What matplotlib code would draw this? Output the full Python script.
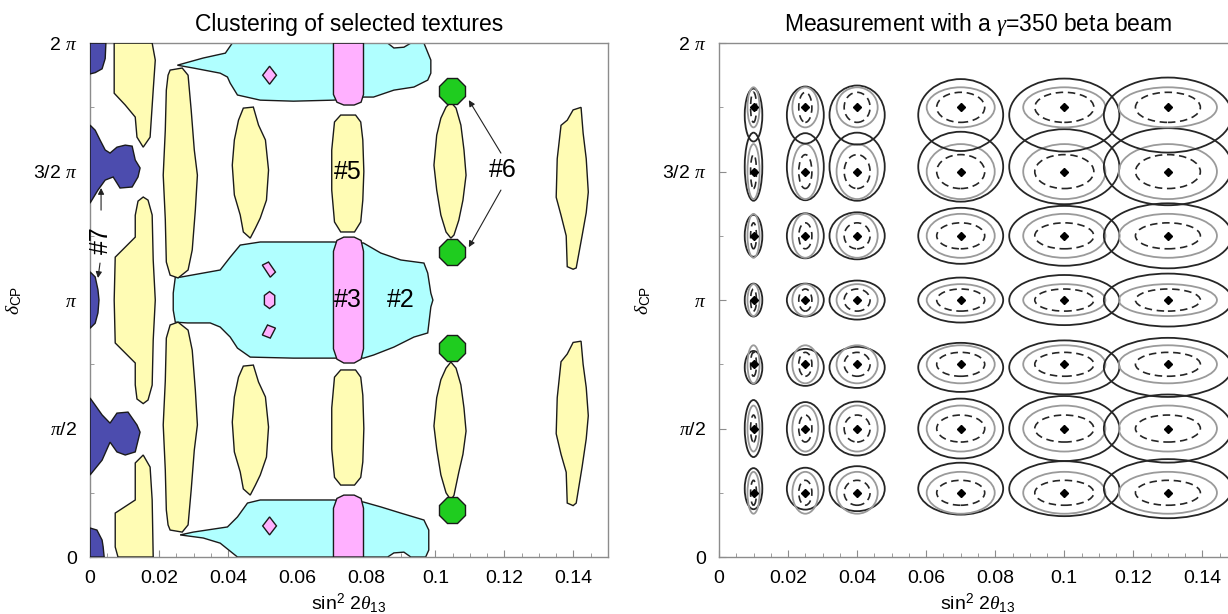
import numpy as np
import matplotlib.pyplot as plt
from matplotlib.patches import Polygon, Ellipse

plt.rcParams['font.family'] = ['Liberation Sans', 'DejaVu Sans']
plt.rcParams['mathtext.fontset'] = 'custom'
plt.rcParams['mathtext.rm'] = 'Liberation Sans'
plt.rcParams['mathtext.sf'] = 'Liberation Sans'
plt.rcParams['mathtext.it'] = 'Liberation Serif:italic'

# ---------------- data: left panel (x = sin^2 2theta13, y = delta_CP / pi) ----------------
blue_regions = [
    [(0, 2.0), (0.0046, 2.0), (0.0044, 1.94), (0.0035, 1.90), (0.0015, 1.885), (0, 1.88)],
    [(0, 1.681), (0.0015, 1.661), (0.0029, 1.623), (0.0044, 1.584), (0.0058, 1.572), (0.0078, 1.595),
     (0.0102, 1.603), (0.0122, 1.599), (0.0131, 1.545), (0.0145, 1.514), (0.0139, 1.479), (0.0122, 1.44),
     (0.0087, 1.436), (0.0067, 1.479), (0.0044, 1.467), (0.0023, 1.428), (0, 1.377)],
    [(0, 1.11), (0.0015, 1.09), (0.0023, 1.04), (0.0026, 1.0), (0.0023, 0.95), (0.0015, 0.91), (0, 0.89)],
    [(0, 0.619), (0.0015, 0.591), (0.0035, 0.553), (0.0058, 0.521), (0.0078, 0.56), (0.011, 0.564),
     (0.0136, 0.514), (0.0145, 0.486), (0.0131, 0.409), (0.0102, 0.397), (0.0078, 0.409), (0.0058, 0.447),
     (0.0035, 0.377), (0, 0.319)],
    [(0, 0), (0.0041, 0), (0.0038, 0.04), (0.0035, 0.066), (0.002, 0.105), (0, 0.113)],
]

cyan_regions = [
    [(0.0253, 1.914), (0.0328, 1.942), (0.0392, 1.961), (0.0412, 2.0), (0.0862, 2.0), (0.088, 1.981),
     (0.0909, 1.984), (0.0929, 2.0), (0.0967, 2.0), (0.0987, 1.934), (0.0987, 1.883), (0.0978, 1.856),
     (0.0938, 1.829), (0.088, 1.817), (0.0821, 1.79), (0.0792, 1.79), (0.0705, 1.778), (0.0589, 1.774),
     (0.0493, 1.778), (0.0427, 1.798), (0.0406, 1.844), (0.0398, 1.868), (0.0377, 1.883), (0.0299, 1.903)],
    [(0.0247, 1.089), (0.0261, 1.089), (0.0377, 1.117), (0.0406, 1.167), (0.0435, 1.214), (0.0493, 1.226),
     (0.0705, 1.226), (0.0792, 1.222), (0.0842, 1.183), (0.09, 1.156), (0.0967, 1.144), (0.0978, 1.105),
     (0.0987, 1.027), (0.0993, 1.0), (0.0987, 0.973), (0.0978, 0.872), (0.0938, 0.856), (0.088, 0.817),
     (0.0821, 0.786), (0.0792, 0.774), (0.0705, 0.774), (0.0589, 0.774), (0.0464, 0.778), (0.0427, 0.813),
     (0.0406, 0.856), (0.0377, 0.895), (0.0348, 0.911), (0.0282, 0.911), (0.0247, 0.914), (0.0241, 0.961),
     (0.0241, 1.027)],
    [(0.0261, 0.086), (0.0299, 0.097), (0.0398, 0.117), (0.0427, 0.156), (0.0456, 0.21), (0.0493, 0.222),
     (0.0705, 0.222), (0.0792, 0.214), (0.0842, 0.195), (0.09, 0.171), (0.0967, 0.144), (0.0981, 0.105),
     (0.0981, 0.027), (0.0972, 0), (0.0929, 0), (0.0909, 0.019), (0.088, 0.016), (0.0862, 0),
     (0.0427, 0), (0.0377, 0.054), (0.0328, 0.074)],
]

pink_regions = [
    [(0.0705, 2.0), (0.0705, 1.80), (0.0715, 1.77), (0.0735, 1.759), (0.0765, 1.759), (0.0785, 1.77),
     (0.0792, 1.80), (0.0792, 2.0)],
    [(0.0705, 1.19), (0.0715, 1.232), (0.0735, 1.245), (0.0765, 1.245), (0.0785, 1.232), (0.0792, 1.19),
     (0.0792, 0.81), (0.0785, 0.77), (0.0765, 0.755), (0.0735, 0.755), (0.0715, 0.77), (0.0705, 0.81)],
    [(0.0705, 0), (0.0705, 0.19), (0.0715, 0.228), (0.0735, 0.241), (0.0765, 0.241), (0.0785, 0.228),
     (0.0792, 0.19), (0.0792, 0)],
    [(0.052, 1.91), (0.054, 1.875), (0.052, 1.84), (0.050, 1.875)],
    [(0.0499, 1.136), (0.0517, 1.148), (0.0537, 1.109), (0.0522, 1.089)],
    [(0.052, 1.033), (0.0535, 1.018), (0.0535, 0.982), (0.052, 0.967), (0.0505, 0.982), (0.0505, 1.018)],
    [(0.0499, 0.864), (0.0514, 0.903), (0.0537, 0.891), (0.0522, 0.852)],
    [(0.052, 0.156), (0.054, 0.121), (0.052, 0.086), (0.050, 0.121)],
]

yellow_regions = [
    # x ~ 0.01
    [(0.007, 2.0), (0.007, 1.805), (0.0102, 1.759), (0.0131, 1.712), (0.0136, 1.634), (0.0154, 1.595),
     (0.0174, 1.634), (0.0183, 1.817), (0.0189, 1.934), (0.018, 2.0)],
    [(0.0154, 1.401), (0.0168, 1.389), (0.018, 1.331), (0.0183, 1.156), (0.0189, 1.0), (0.0183, 0.844),
     (0.018, 0.669), (0.0168, 0.611), (0.0154, 0.597), (0.0136, 0.615), (0.0131, 0.67), (0.0131, 0.755),
     (0.0073, 0.833), (0.007, 1.0), (0.0073, 1.167), (0.0131, 1.245), (0.0131, 1.33), (0.0139, 1.385)],
    [(0.0154, 0.397), (0.0131, 0.366), (0.0131, 0.222), (0.0073, 0.171), (0.0073, 0.039), (0.0081, 0),
     (0.0183, 0), (0.018, 0.222), (0.0174, 0.35)],
    # x ~ 0.025
    [(0.0232, 1.895), (0.0267, 1.903), (0.0284, 1.875), (0.0293, 1.739), (0.0302, 1.584), (0.0311, 1.486),
     (0.0305, 1.35), (0.0296, 1.195), (0.0284, 1.117), (0.0255, 1.086), (0.0232, 1.097), (0.0221, 1.148),
     (0.0218, 1.315), (0.0212, 1.486), (0.0218, 1.661), (0.0221, 1.817), (0.0226, 1.875)],
    [(0.0232, 0.105), (0.0267, 0.097), (0.0284, 0.125), (0.0293, 0.261), (0.0302, 0.416), (0.0311, 0.514),
     (0.0305, 0.65), (0.0296, 0.805), (0.0284, 0.883), (0.0255, 0.914), (0.0232, 0.903), (0.0221, 0.852),
     (0.0218, 0.685), (0.0212, 0.514), (0.0218, 0.339), (0.0221, 0.183), (0.0226, 0.125)],
    # x ~ 0.045
    [(0.0444, 1.747), (0.0473, 1.751), (0.0488, 1.681), (0.0508, 1.623), (0.0517, 1.506), (0.0511, 1.389),
     (0.0493, 1.319), (0.0479, 1.28), (0.0464, 1.241), (0.0444, 1.265), (0.0435, 1.331), (0.0418, 1.409),
     (0.0412, 1.525), (0.0418, 1.623), (0.043, 1.7)],
    [(0.0444, 0.743), (0.0473, 0.747), (0.0488, 0.681), (0.0508, 0.623), (0.0517, 0.506), (0.0511, 0.389),
     (0.0493, 0.319), (0.0479, 0.28), (0.0464, 0.241), (0.0444, 0.265), (0.0435, 0.331), (0.0418, 0.409),
     (0.0412, 0.525), (0.0418, 0.623), (0.043, 0.7)],
    # x ~ 0.075 (#5)
    [(0.0726, 1.72), (0.0769, 1.72), (0.0784, 1.693), (0.079, 1.623), (0.0793, 1.5), (0.079, 1.389),
     (0.0784, 1.304), (0.0766, 1.265), (0.0726, 1.265), (0.0708, 1.304), (0.07, 1.428), (0.07, 1.584),
     (0.0708, 1.693)],
    [(0.0726, 0.728), (0.0769, 0.728), (0.0784, 0.70), (0.079, 0.63), (0.0793, 0.5), (0.079, 0.37),
     (0.0784, 0.31), (0.0766, 0.28), (0.0726, 0.28), (0.0708, 0.31), (0.07, 0.42), (0.07, 0.58),
     (0.0708, 0.70)],
    # x ~ 0.105
    [(0.1045, 1.77), (0.106, 1.747), (0.1074, 1.681), (0.1083, 1.584), (0.1089, 1.486), (0.108, 1.389),
     (0.1068, 1.311), (0.1054, 1.253), (0.1045, 1.241), (0.1031, 1.265), (0.1016, 1.331), (0.1004, 1.428),
     (0.0996, 1.525), (0.1004, 1.642), (0.1016, 1.708), (0.1031, 1.751)],
    [(0.1045, 0.759), (0.106, 0.735), (0.1074, 0.67), (0.1083, 0.58), (0.1089, 0.49), (0.108, 0.40),
     (0.1068, 0.33), (0.1054, 0.24), (0.1045, 0.222), (0.1031, 0.25), (0.1016, 0.32), (0.1004, 0.42),
     (0.0996, 0.51), (0.1004, 0.62), (0.1016, 0.69), (0.1031, 0.735)],
    # x ~ 0.14
    [(0.1399, 1.74), (0.1422, 1.75), (0.1428, 1.65), (0.1437, 1.55), (0.1443, 1.42), (0.1437, 1.34),
     (0.1425, 1.25), (0.1408, 1.125), (0.1399, 1.12), (0.1382, 1.13), (0.1379, 1.25), (0.1364, 1.33),
     (0.135, 1.40), (0.1353, 1.55), (0.1364, 1.68), (0.1382, 1.70)],
    [(0.1399, 0.835), (0.1422, 0.84), (0.1428, 0.75), (0.1437, 0.66), (0.1443, 0.55), (0.1437, 0.46),
     (0.1425, 0.35), (0.1408, 0.21), (0.1399, 0.20), (0.1382, 0.21), (0.1379, 0.33), (0.1364, 0.40),
     (0.135, 0.48), (0.1353, 0.62), (0.1364, 0.76), (0.1382, 0.79)],
]

green_x = [0.1048, 0.1048, 0.1048, 0.1048]
green_y = [1.813, 1.187, 0.813, 0.183]

# ---------------- data: right panel ----------------
true_x = [0.01, 0.025, 0.04, 0.07, 0.1, 0.13]
true_y = [0.25, 0.5, 0.75, 1.0, 1.25, 1.5, 1.75]
# full widths of the three contours per column (sin^2 2theta13 units)
w_outer = [0.0051, 0.0107, 0.016, 0.0246, 0.0319, 0.0371]
w_gray = [0.0035, 0.0075, 0.0119, 0.0197, 0.0238, 0.0284]
w_dash = [0.0017, 0.0038, 0.0075, 0.0139, 0.0171, 0.0188]
# full heights (units of pi): outer per row x column, inner ones per row
h_outer = [
    [0.16, 0.163, 0.175, 0.202, 0.214, 0.23],
    [0.222, 0.206, 0.21, 0.233, 0.253, 0.265],
    [0.128, 0.144, 0.16, 0.191, 0.21, 0.23],
    [0.128, 0.128, 0.152, 0.175, 0.195, 0.206],
    [0.163, 0.175, 0.183, 0.218, 0.233, 0.253],
    [0.265, 0.261, 0.265, 0.272, 0.292, 0.3],
    [0.206, 0.222, 0.23, 0.28, 0.284, 0.292],
]
shift_outer = [0.016, 0, -0.012, 0, 0, 0.019, -0.03]
h_gray = [0.163, 0.179, 0.148, 0.124, 0.171, 0.214, 0.156]
h_dash = [0.097, 0.105, 0.093, 0.086, 0.101, 0.132, 0.117]

yticks = [0, 0.5, 1.0, 1.5, 2.0]
ylabels = ['0', r'$\pi$/2', r'$\pi$', r'3/2 $\pi$', r'2 $\pi$']
xticks = [0, 0.02, 0.04, 0.06, 0.08, 0.1, 0.12, 0.14]
xlabels = ['0', '0.02', '0.04', '0.06', '0.08', '0.1', '0.12', '0.14']

edge = '#1a1a1a'
frame = '#8c8c8c'

fig = plt.figure(figsize=(12.28, 6.14), dpi=100)
axL = fig.add_axes([0.0733, 0.0928, 0.4218, 0.837])
axR = fig.add_axes([0.5855, 0.0928, 0.4218, 0.837])

for pts in cyan_regions:
    axL.add_patch(Polygon(pts, closed=True, fc='#b0ffff', ec=edge, lw=1.0, zorder=2))
for pts in pink_regions:
    axL.add_patch(Polygon(pts, closed=True, fc='#ffb0ff', ec=edge, lw=1.0, zorder=3))
for pts in yellow_regions:
    axL.add_patch(Polygon(pts, closed=True, fc='#fffcb4', ec=edge, lw=1.0, zorder=3))
for pts in blue_regions:
    axL.add_patch(Polygon(pts, closed=True, fc='#4c4cae', ec=edge, lw=1.0, zorder=3))
axL.plot(green_x, green_y, ls='none', marker='8', ms=20, mfc='#1fcc1f', mec=edge, mew=1.0, zorder=4)

txt = dict(fontsize=18, ha='center', va='center', zorder=6)
axL.text(0.0746, 1.5, '#5', **txt)
axL.text(0.0746, 1.0, '#3', **txt)
axL.text(0.09, 1.0, '#2', **txt)
axL.text(0.1196, 1.506, '#6', **txt)
axL.text(0.0031, 1.235, '#7', rotation=90, **txt)
arw = dict(arrowstyle='-|>', color='#222222', lw=0.8, mutation_scale=9, shrinkA=0, shrinkB=0)
axL.annotate('', xy=(0.1097, 1.778), xytext=(0.119, 1.572), arrowprops=arw, zorder=6)
axL.annotate('', xy=(0.1097, 1.206), xytext=(0.119, 1.428), arrowprops=arw, zorder=6)
axL.annotate('', xy=(0.0032, 1.436), xytext=(0.0032, 1.35), arrowprops=arw, zorder=6)
axL.annotate('', xy=(0.0023, 1.086), xytext=(0.0029, 1.144), arrowprops=arw, zorder=6)

for i, yv in enumerate(true_y):
    for j, xv in enumerate(true_x):
        axR.add_patch(Ellipse((xv, yv + shift_outer[i]), w_outer[j], h_outer[i][j],
                              fill=False, ec='#262626', lw=1.3))
        axR.add_patch(Ellipse((xv, yv), w_gray[j], h_gray[i], fill=False, ec='#9a9a9a', lw=1.3))
        axR.add_patch(Ellipse((xv, yv), w_dash[j], h_dash[i], fill=False, ec='#262626', lw=1.2,
                              ls=(0, (4.5, 2.8))))
px, py = np.meshgrid(true_x, true_y)
axR.plot(px.ravel(), py.ravel(), ls='none', marker='D', ms=4, color='black')

for ax in (axL, axR):
    ax.set_xlim(0, 0.15)
    ax.set_ylim(0, 2)
    ax.set_xticks(xticks)
    ax.set_xticklabels(xlabels)
    ax.set_xticks(np.arange(0.005, 0.15, 0.005), minor=True)
    ax.set_yticks(yticks)
    ax.set_yticklabels(ylabels)
    ax.set_yticks([0.25, 0.75, 1.25, 1.75], minor=True)
    ax.tick_params(which='both', direction='in', colors=frame, labelcolor='black',
                   labelsize=14, top=False, right=False)
    ax.tick_params(which='major', length=5, pad=9)
    ax.tick_params(which='minor', length=3)
    for s in ax.spines.values():
        s.set_color(frame)
        s.set_linewidth(1.0)
    ax.set_xlabel(r'sin$^2$ 2$\theta_{13}$', fontsize=14, labelpad=3)
    ax.set_ylabel(r'$\delta_{\rm CP}$', fontsize=14, labelpad=6)

axL.set_title('Clustering of selected textures', fontsize=16.5, pad=9)
axR.set_title(r'Measurement with a $\gamma$=350 beta beam', fontsize=16.5, pad=9)

fig.savefig('out.png', dpi=100)
